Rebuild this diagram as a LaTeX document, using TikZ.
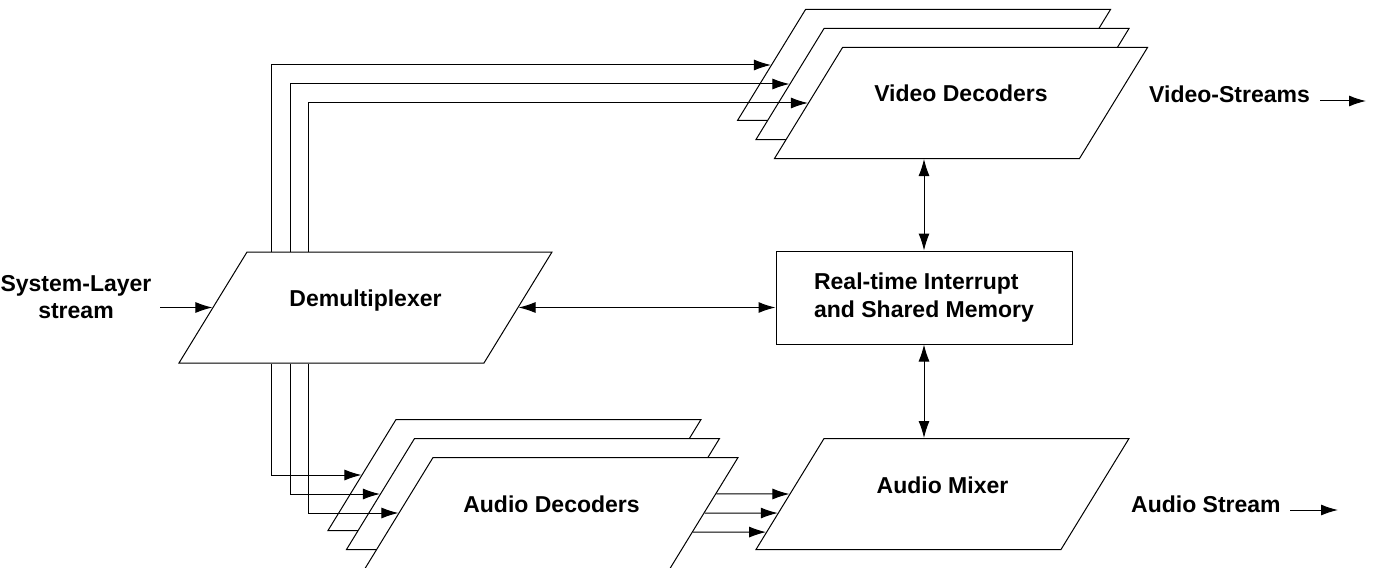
\documentclass[tikz,border=0pt]{standalone}
\usepackage{fontspec}
\setmainfont{Liberation Sans}
\usepackage{tikz}
\usetikzlibrary{calc, shapes.geometric, arrows.meta}

\begin{document}
\begin{tikzpicture}[>={Latex[length=8.5pt,width=5.5pt]}, x=0.5pt, y=-0.5pt, line width=0.5pt,
    every node/.style={font=\bfseries\fontsize{11.5}{13.7}\selectfont},
    para/.style={trapezium, draw, fill=white, trapezium left angle=58.5,
        trapezium right angle=121.5, trapezium stretches body,
        minimum width=186.5pt, minimum height=55.5pt, inner sep=0pt,
        text height=27.25pt, text depth=28.25pt},
    membox/.style={draw, fill=white, minimum width=148pt, minimum height=46.5pt, align=left}]
    \useasboundingbox (0,0) rectangle (1380,567);
    \clip (0,0) rectangle (1380,567);

    % 1. Video decoders (stack)
    \node[para] (vd1) at (924,65) {};
    \node[para] (vd2) at (942.5,84) {};
    \node[para] (vd3) at (961,103) {Video Decoders};

    % 2. Audio decoders (stack)
    \node[para] (ad1) at (514.5,475) {};
    \node[para] (ad2) at (533,494) {};
    \node[para] (ad3) at (551.5,513) {Audio Decoders};

    % 3. Demux, mixer, memory
    \node[para] (demux) at (365.5,307.5) {Demultiplexer};
    \node[para] (mixer) at (942.5,494) {Audio Mixer};
    \node[membox] (mem) at (924,297.5) {Real-time Interrupt\\and Shared Memory};

    % 4. Inputs and outputs
    \node[align=center] (sys) at (76,297) {System-Layer\\stream};
    \node[anchor=west] (vs) at (1142,94) {Video-Streams};
    \node[anchor=west] (as) at (1124,504) {Audio Stream};
    \coordinate (sysin) at (160,307.5);
    \coordinate (vsa) at (1320,101);
    \coordinate (vsb) at (1366,101);
    \coordinate (asa) at (1290,510);
    \coordinate (asb) at (1338,510);

    % 5. Connections
    \draw[->] (sysin) -- (demux.left side);
    \draw[<->] (demux.right side) -- (demux.right side -| mem.west);
    \draw[<->] (mem.north) -- (mem.north |- vd3.bottom side);
    \draw[<->] (mem.south) -- (mem.south |- mixer.top side);
    \foreach \i/\dx in {1/12.5, 2/22, 3/31} {
        \coordinate (up\i) at ([xshift=\dx pt]demux.top left corner);
        \draw[->] (up\i) |- (vd\i.left side);
        \draw[->] (up\i |- demux.bottom side) |- (ad\i.left side);
    }
    \foreach \a/\b in {.33/.5, .5/.67, .67/.84} {
        \draw[->] ($(ad3.top right corner)!\a!(ad3.bottom right corner)$)
            -- ($(mixer.top left corner)!\b!(mixer.bottom left corner)$);
    }
    \draw[->] (vsa) -- (vsb);
    \draw[->] (asa) -- (asb);
\end{tikzpicture}
\end{document}
